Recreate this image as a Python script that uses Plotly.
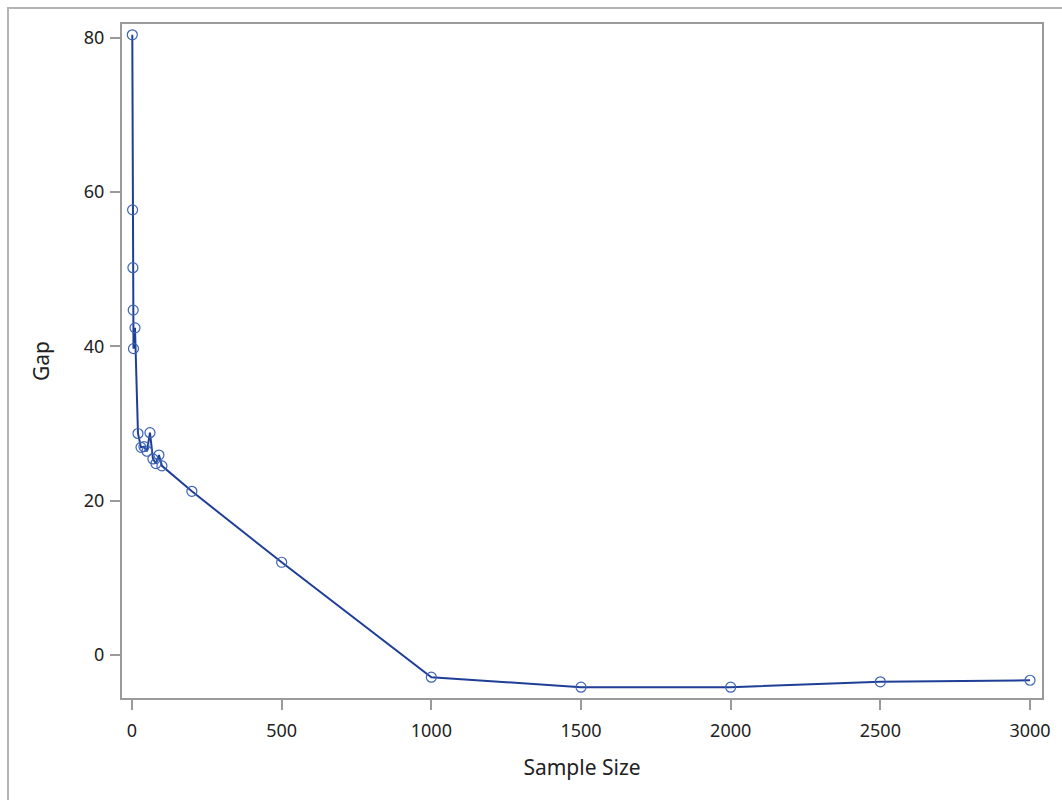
import plotly.graph_objects as go

sample_size = [1, 2, 3, 4, 5, 10, 20, 30, 40, 50, 60, 70, 80, 90, 100,
               200, 500, 1000, 1500, 2000, 2500, 3000]
gap = [80.4, 57.7, 50.2, 44.7, 39.7, 42.4, 28.7, 26.9, 27.0, 26.4, 28.8,
       25.4, 24.8, 25.9, 24.5, 21.2, 12.0, -2.9, -4.2, -4.2, -3.5, -3.3]

x_ticks = [0, 500, 1000, 1500, 2000, 2500, 3000]
y_ticks = [0, 20, 40, 60, 80]

FONT = "Noto Sans, Open Sans, DejaVu Sans, sans-serif"
AXIS_GRAY = "#9a9a9a"

fig = go.Figure()
fig.add_trace(go.Scatter(
    x=sample_size, y=gap, mode="lines+markers",
    line=dict(color="#1f3f97", width=2),
    marker=dict(symbol="circle-open", size=10, color="#3b62b5",
                line=dict(width=1.2, color="#3b62b5")),
    showlegend=False,
))

fig.update_layout(
    width=1062, height=800,
    margin=dict(l=122, r=20, t=24, b=102),
    paper_bgcolor="white", plot_bgcolor="white",
    font=dict(family=FONT, color="#222222", size=18),
    shapes=[dict(type="rect", xref="paper", yref="paper",
                 x0=(8 - 122) / 920, x1=(1075 - 122) / 920,
                 y0=(698 - 815) / 674, y1=(698 - 8) / 674,
                 line=dict(color="#b4b4b4", width=2), layer="below")],
)
fig.update_xaxes(
    range=[-33.4, 3040], tickvals=x_ticks, ticktext=[str(v) for v in x_ticks],
    showgrid=False, zeroline=False, showline=True, mirror=True,
    linecolor=AXIS_GRAY, linewidth=2, ticks="outside", ticklen=10,
    tickcolor=AXIS_GRAY, tickwidth=2, tickfont=dict(size=18),
    ticklabelstandoff=5,
    title=dict(text="Sample Size", font=dict(size=21), standoff=20),
)
fig.update_yaxes(
    range=[-5.6, 81.8], tickvals=y_ticks, ticktext=[str(v) for v in y_ticks],
    showgrid=False, zeroline=False, showline=True, mirror=True,
    linecolor=AXIS_GRAY, linewidth=2, ticks="outside", ticklen=10,
    tickcolor=AXIS_GRAY, tickwidth=2, tickfont=dict(size=18),
    ticklabelstandoff=2,
    title=dict(text="Gap", font=dict(size=21), standoff=28),
)

fig.write_html("out.html")
